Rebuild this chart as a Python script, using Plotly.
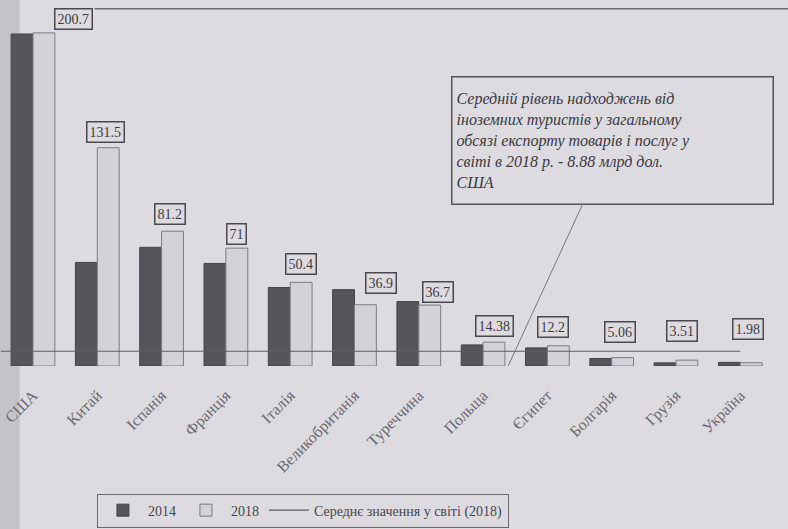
import plotly.graph_objects as go

# ---- data ----
countries = ["США", "Китай", "Іспанія", "Франція", "Італія", "Великобританія",
             "Туреччина", "Польща", "Єгипет", "Болгарія", "Грузія", "Україна"]
values_2014 = [200.0, 62.4, 71.5, 61.8, 47.3, 46.0, 38.8, 12.7, 10.9, 4.5, 1.9, 2.2]
values_2018 = [200.7, 131.5, 81.2, 71.0, 50.4, 36.9, 36.7, 14.38, 12.2, 5.06, 3.51, 1.98]
labels_2018 = ["200.7", "131.5", "81.2", "71", "50.4", "36.9", "36.7", "14.38", "12.2", "5.06", "3.51", "1.98"]
world_avg_2018 = 8.88

# label box offsets (pixels) – layout only
label_dx = [30, -3, -3, 0, 0, 16, 8, 0, -5, -3, -5, -3]
label_dy = [3, 5, 6, 3, 7, 11, 2, 5, 8, 15, 18, 23]

PAPER = "#dddbe0"
DARK = "#57545b"
LIGHT = "#d4d1d8"
SERIF = "Liberation Serif, Times New Roman, serif"

idx = list(range(len(countries)))

fig = go.Figure()
fig.add_trace(go.Bar(x=idx, y=values_2014, name="2014",
                     marker=dict(color=DARK, line=dict(color="#454248", width=1))))
fig.add_trace(go.Bar(x=idx, y=values_2018, name="2018",
                     marker=dict(color=LIGHT, line=dict(color="#7d7a82", width=1))))
fig.add_trace(go.Scatter(x=[-0.5, idx[-1]], y=[world_avg_2018, world_avg_2018],
                         mode="lines", name="Середнє значення у світі (2018)",
                         line=dict(color="#5f5c63", width=1.2)))

annotations = []
for i, v in enumerate(values_2018):
    annotations.append(dict(
        x=i + 0.17, y=v, xref="x", yref="y", text=labels_2018[i],
        showarrow=False, yanchor="bottom", xshift=label_dx[i], yshift=label_dy[i],
        font=dict(family=SERIF, size=14, color="#3c3a40"),
        bordercolor="#4a474e", borderwidth=1.5, borderpad=2, bgcolor=PAPER))

callout = ("Середній рівень надходжень від<br>"
           "іноземних туристів у загальному<br>"
           "обсязі експорту товарів і послуг у<br>"
           "світі в 2018 р. - 8.88 млрд дол.<br>"
           "США")
annotations.append(dict(
    x=7.39, y=0, xref="x", yref="y", text=callout,
    showarrow=True, arrowhead=0, arrowwidth=1, arrowcolor="#77747b",
    ax=104, ay=-226, align="left", width=312, height=118,
    font=dict(family=SERIF, size=16, color="#3a383e", style="italic"),
    bordercolor="#55525a", borderwidth=1.5, borderpad=4, bgcolor=PAPER))

fig.update_layout(
    width=788, height=529,
    paper_bgcolor=PAPER, plot_bgcolor=PAPER,
    margin=dict(l=0, r=0, t=0, b=163, autoexpand=False),
    barmode="group", bargap=0.32, bargroupgap=0.0,
    xaxis=dict(range=[-0.513, 11.742], tickvals=idx, ticktext=countries,
               tickangle=-45, showgrid=False, zeroline=False, showline=False,
               ticks="", ticklabelstandoff=16,
               tickfont=dict(family=SERIF, size=16, color="#6a676e")),
    yaxis=dict(range=[0, 220.5], visible=False, showgrid=False, zeroline=False),
    legend=dict(orientation="h", x=0.123, xanchor="left", y=-0.395, yanchor="middle",
                bordercolor="#6a676e", borderwidth=1, bgcolor="rgba(0,0,0,0)",
                font=dict(family=SERIF, size=14, color="#48454c"),
                itemwidth=40, traceorder="normal"),
    annotations=annotations,
    shapes=[
        dict(type="rect", xref="paper", yref="paper", x0=0, x1=0.025, y0=-0.6, y1=1,
             fillcolor="rgba(90,88,96,0.18)", line=dict(width=0), layer="below"),
        dict(type="line", xref="paper", yref="paper", x0=0.12, x1=1, y0=0.976, y1=0.976,
             line=dict(color="#6a676e", width=1.5)),
    ],
    showlegend=True,
)

fig.write_html("out.html", config={"displayModeBar": False},
               post_script="document.body.style.margin='0px';")
